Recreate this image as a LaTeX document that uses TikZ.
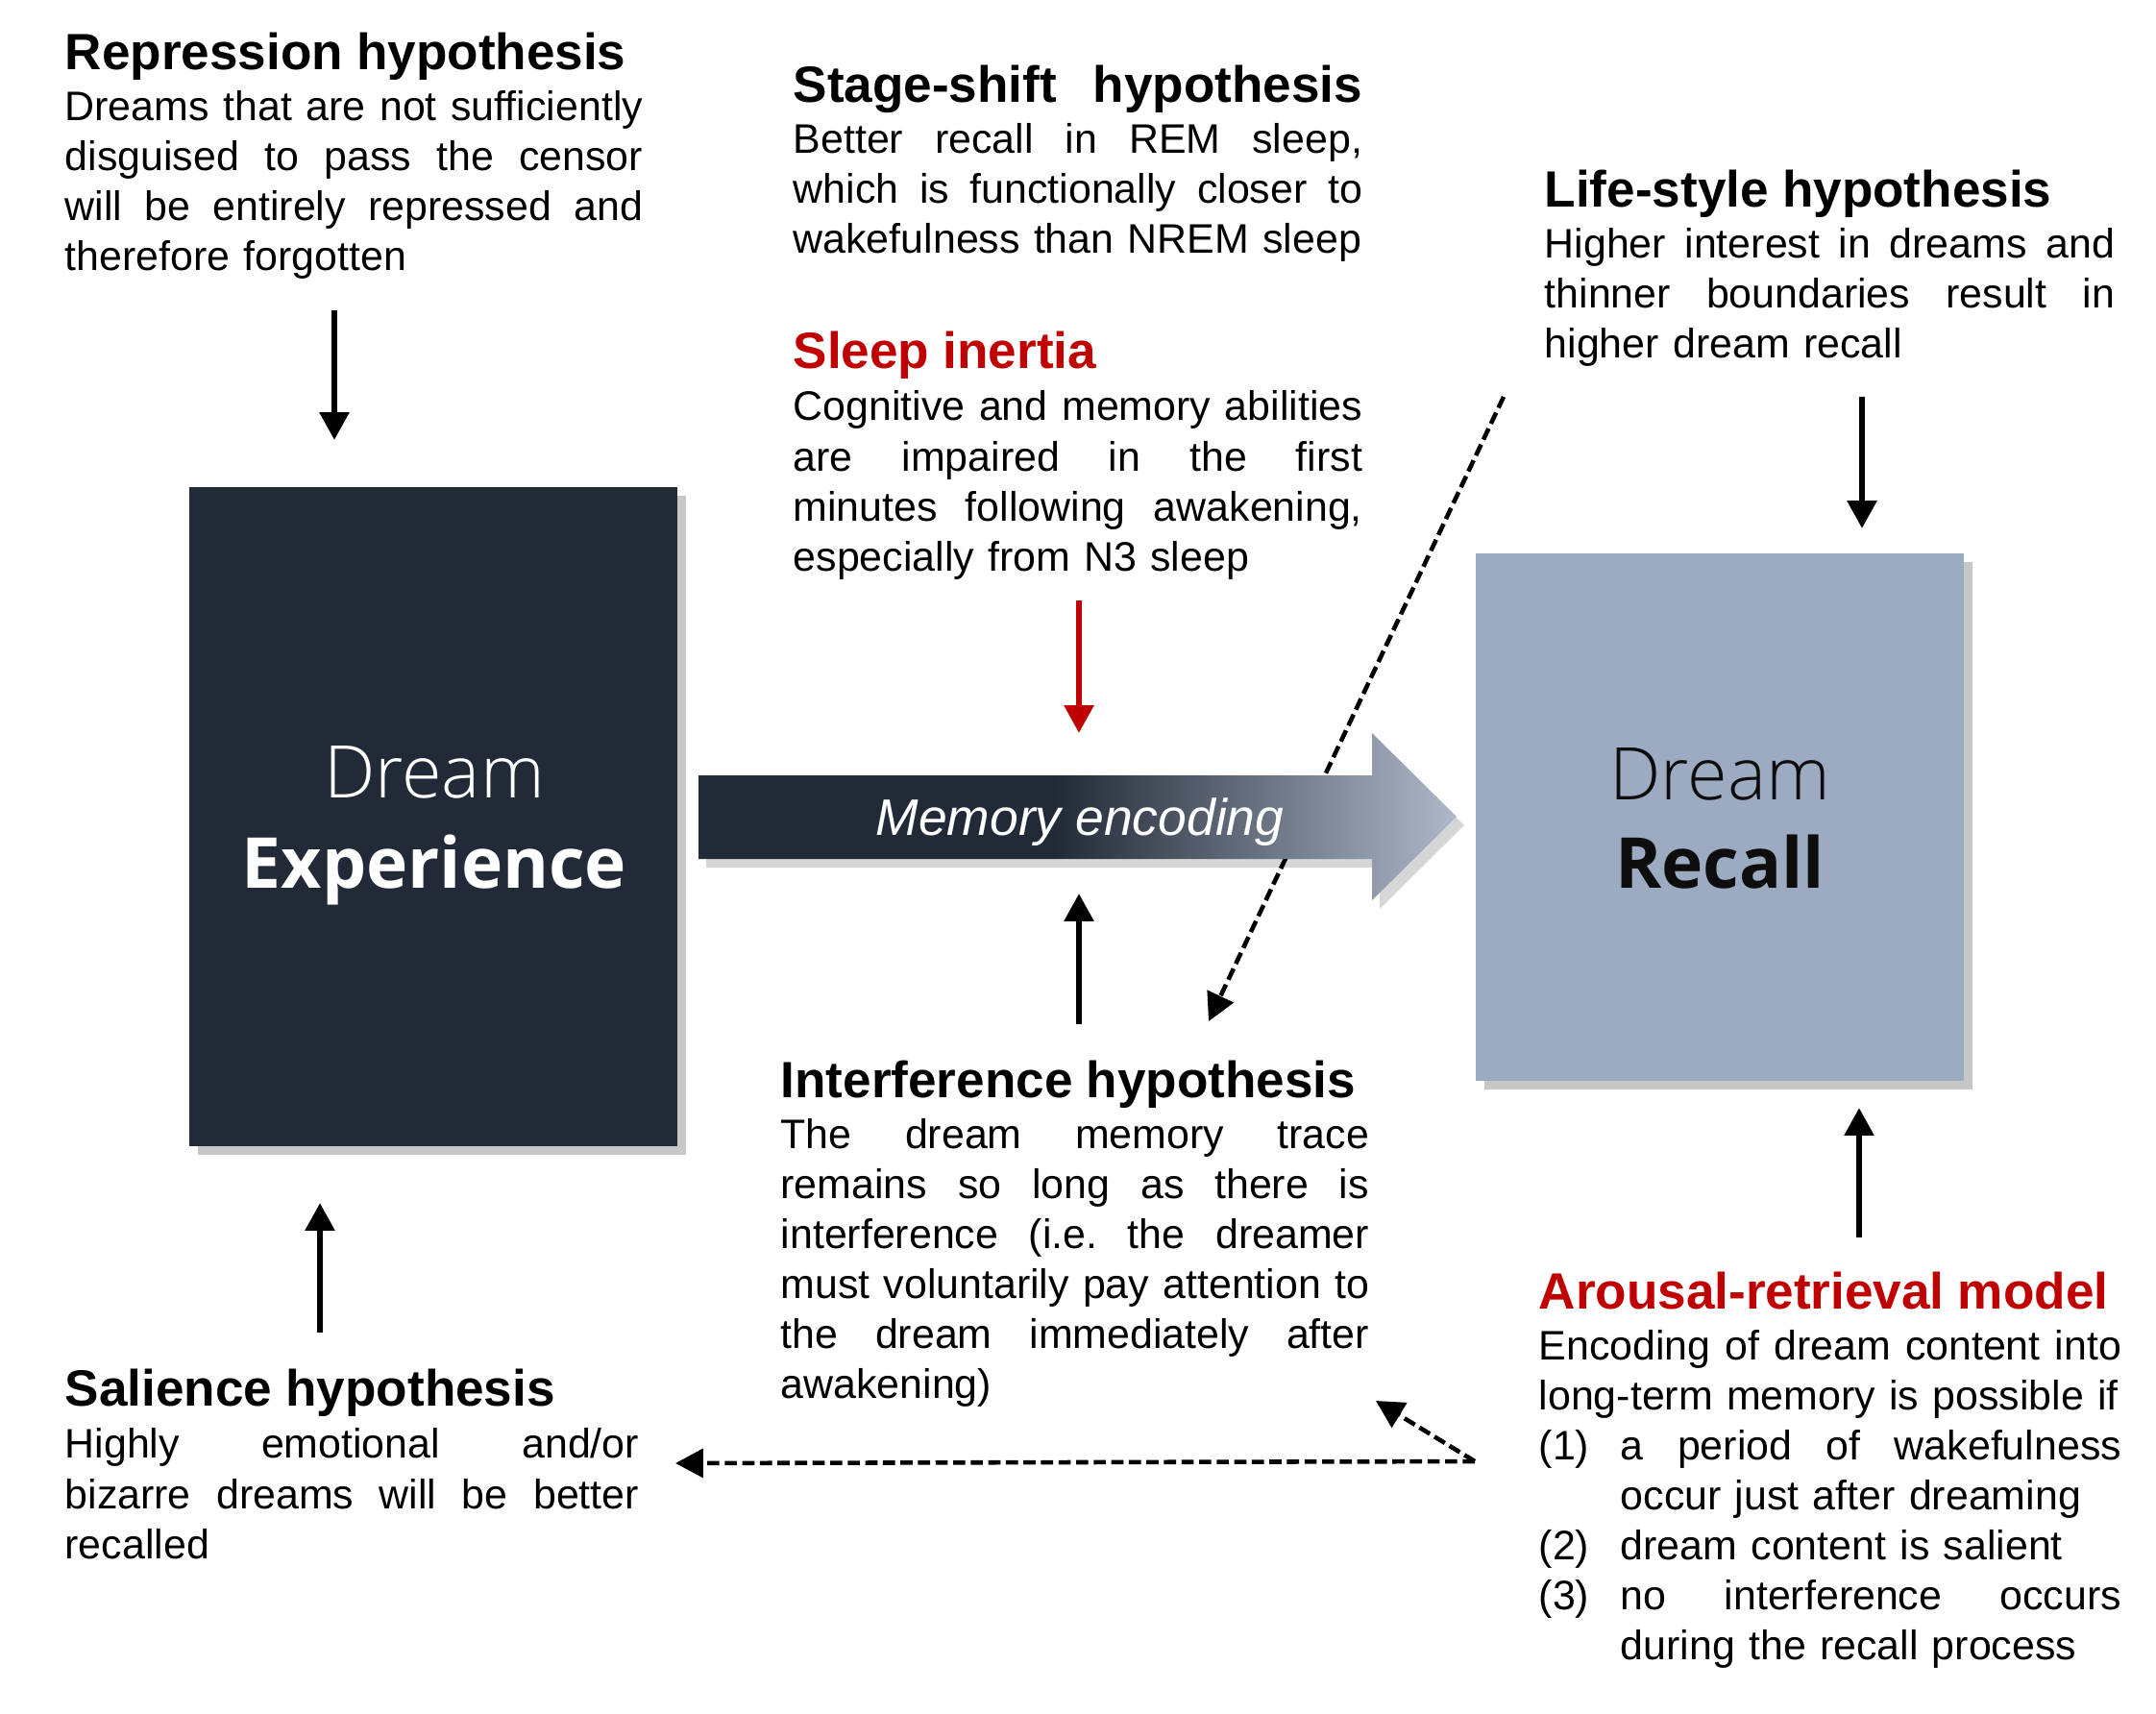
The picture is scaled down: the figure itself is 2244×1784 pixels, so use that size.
\documentclass[tikz,border=0pt]{standalone}
\usepackage{fontspec}
\setmainfont{Liberation Sans}
\newfontfamily\osans{Open Sans}
\IfFontExistsTF{Open Sans Light}{\newfontfamily\boxlight{Open Sans Light}}{\let\boxlight\osans}
\IfFontExistsTF{Open Sans SemiBold}{\newfontfamily\boxsemi{Open Sans SemiBold}}{\def\boxsemi{\osans\bfseries}}
\usetikzlibrary{arrows.meta,shadows}
\setlength{\parindent}{0pt}
\definecolor{dkbox}{HTML}{232A37}
\definecolor{ltbox}{HTML}{9DABC2}
\definecolor{arrowlt}{HTML}{ADB8C8}
\definecolor{hired}{HTML}{C00000}
\pgfdeclarehorizontalshading{memgrad}{100bp}{color(0bp)=(dkbox); color(48.5bp)=(dkbox); color(75bp)=(arrowlt); color(100bp)=(arrowlt)}
% justified line: words separated by \hfill fill the given width
\newcommand{\JL}[2]{\leavevmode\hbox to #1{#2}}
\newcommand{\bodysize}{\fontsize{12.2pt}{14.82pt}\selectfont}
\newcommand{\titlesize}{\fontsize{15.1pt}{14.82pt}\selectfont\bfseries}
\tikzset{
  txt/.style={anchor=base west, inner sep=0pt, align=left, font=\bodysize\frenchspacing},
  solidarr/.style={line width=1.9pt, -{Triangle[length=8.2pt,width=8.4pt]}},
  dasharr/.style={line width=1.3pt, dash pattern=on 3.6pt off 1.6pt, -{Triangle[length=8.2pt,width=8.4pt]}},
  bigbox/.style={rectangle, inner sep=0pt, draw=none,
    drop shadow={shadow xshift=0.09cm, shadow yshift=-0.09cm, fill=black, opacity=0.22}},
  boxtxt/.style={anchor=base, inner sep=0pt}
}
\begin{document}
\begin{tikzpicture}[x=0.01cm, y=-0.01cm]
\useasboundingbox (0,0) rectangle (2244,1784);

% main boxes
\node[bigbox, fill=dkbox, minimum width=5.08cm, minimum height=6.86cm] (exp) at (451,850) {};
\node[bigbox, fill=ltbox, minimum width=5.08cm, minimum height=5.49cm] (rec) at (1790,850.5) {};
\node[boxtxt, text=white, font=\boxlight\fontsize{21.5pt}{26pt}\selectfont] (exp-a) at (452,830) {Dream};
\node[boxtxt, text=white, font=\boxsemi\fontsize{20.8pt}{26pt}\selectfont] (exp-b) at (452,924) {Experience};
\node[boxtxt, text=black!95, font=\boxlight\fontsize{21.5pt}{26pt}\selectfont] (rec-a) at (1790,832) {Dream};
\node[boxtxt, text=black!95, font=\boxsemi\fontsize{20.8pt}{26pt}\selectfont] (rec-b) at (1790,924) {Recall};

% text blocks
\node[txt, text width=6.01cm] (repr) at (67,72) {{\titlesize Repression hypothesis}\\[0.3pt]
\JL{6.01cm}{Dreams\hfill that\hfill are\hfill not\hfill sufficiently}\\
\JL{6.01cm}{disguised\hfill to\hfill pass\hfill the\hfill censor}\\
\JL{6.01cm}{will\hfill be\hfill entirely\hfill repressed\hfill and}\\
therefore forgotten};

\node[txt, text width=5.92cm] (stage) at (825,106) {{\titlesize\JL{5.92cm}{Stage-shift\hfill hypothesis}}\\[0.3pt]
\JL{5.92cm}{Better\hfill recall\hfill in\hfill REM\hfill sleep,}\\
\JL{5.92cm}{which\hfill is\hfill functionally\hfill closer\hfill to}\\
wakefulness than NREM sleep};

\node[txt, text width=5.92cm] (inertia) at (825,383) {{\titlesize\color{hired}Sleep inertia}\\[0.8pt]
\JL{5.92cm}{Cognitive\hfill and\hfill memory\hfill abilities}\\
\JL{5.92cm}{are\hfill impaired\hfill in\hfill the\hfill first}\\
\JL{5.92cm}{minutes\hfill following\hfill awakening,}\\
especially from N3 sleep};

\node[txt, text width=5.93cm] (life) at (1607,215) {{\titlesize Life-style hypothesis}\\[0.3pt]
\JL{5.93cm}{Higher\hfill interest\hfill in\hfill dreams\hfill and}\\
\JL{5.93cm}{thinner\hfill boundaries\hfill result\hfill in}\\
higher dream recall};

\node[txt, text width=6.12cm] (interf) at (812,1142) {{\titlesize Interference hypothesis}\\[0.3pt]
\JL{6.12cm}{The\hfill dream\hfill memory\hfill trace}\\
\JL{6.12cm}{remains\hfill so\hfill long\hfill as\hfill there\hfill is}\\
\JL{6.12cm}{interference\hfill (i.e.\hfill the\hfill dreamer}\\
\JL{6.12cm}{must\hfill voluntarily\hfill pay\hfill attention\hfill to}\\
\JL{6.12cm}{the\hfill dream\hfill immediately\hfill after}\\
awakening)};

\node[txt, text width=5.97cm] (sal) at (67,1463) {{\titlesize Salience hypothesis}\\[0.8pt]
\JL{5.97cm}{Highly\hfill emotional\hfill and/or}\\
\JL{5.97cm}{bizarre\hfill dreams\hfill will\hfill be\hfill better}\\
recalled};

\node[txt, text width=6.06cm] (arousal) at (1601,1362) {{\titlesize\color{hired}Arousal-retrieval model}\\[0.3pt]
\JL{6.06cm}{Encoding\hfill of\hfill dream\hfill content\hfill into}\\
long-term memory is possible if\\
\makebox[0.85cm][l]{(1)}\JL{5.21cm}{a\hfill period\hfill of\hfill wakefulness}\\
\hspace*{0.85cm}occur just after dreaming\\
\makebox[0.85cm][l]{(2)}dream content is salient\\
\makebox[0.85cm][l]{(3)}\JL{5.21cm}{no\hfill interference\hfill occurs}\\
\hspace*{0.85cm}during the recall process};

% arrow end points
\coordinate (rep-s) at (348,323);   \coordinate (rep-e) at (348,458);
\coordinate (in-s) at (1123,625);   \coordinate (in-e) at (1123,763);
\coordinate (if-s) at (1123,1066);  \coordinate (if-e) at (1123,930);
\coordinate (ls-s) at (1938,413);   \coordinate (ls-e) at (1938,550);
\coordinate (ar-s) at (1935,1288);  \coordinate (ar-e) at (1935,1153);
\coordinate (sa-s) at (333,1387);   \coordinate (sa-e) at (333,1252);
\coordinate (dg-s) at (1565,413);   \coordinate (dg-e) at (1258,1063);
\coordinate (hz-s) at (1535,1521);  \coordinate (hz-e) at (703,1523);
\coordinate (sh-e) at (1432,1458);

% dashed connectors
\draw[dasharr] (dg-s) -- (dg-e);
\draw[dasharr] (hz-s) -- (hz-e);
\draw[dasharr] (hz-s) -- (sh-e);

% memory encoding arrow
\begin{scope}[shift={(8,9)}]
\fill[black, opacity=0.16] (727,807) -- (1428,807) -- (1428,763) -- (1516,850) -- (1428,937) -- (1428,894) -- (727,894) -- cycle;
\end{scope}
\shade[shading=memgrad] (727,807) -- (1428,807) -- (1428,763) -- (1516,850) -- (1428,937) -- (1428,894) -- (727,894) -- cycle;
\node[anchor=base, inner sep=0pt, text=white, font=\fontsize{15.2pt}{18pt}\selectfont\itshape] (memtxt) at (1124,869) {Memory encoding};

% solid connectors
\draw[solidarr] (rep-s) -- (rep-e);
\draw[solidarr, draw=hired, fill=hired] (in-s) -- (in-e);
\draw[solidarr] (if-s) -- (if-e);
\draw[solidarr] (ls-s) -- (ls-e);
\draw[solidarr] (ar-s) -- (ar-e);
\draw[solidarr] (sa-s) -- (sa-e);
\end{tikzpicture}
\end{document}
